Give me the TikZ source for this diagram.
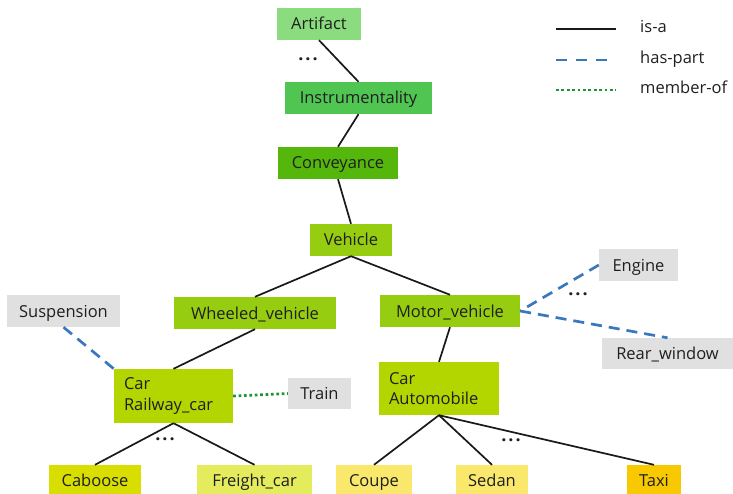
\documentclass[tikz,border=0pt]{standalone}
\usepackage{fontspec}
\setmainfont{Open Sans}
\definecolor{cArtifact}{HTML}{8BDC7E}
\definecolor{cInstr}{HTML}{50C552}
\definecolor{cConv}{HTML}{55B60C}
\definecolor{cVeh}{HTML}{97CD10}
\definecolor{cCar}{HTML}{B4D600}
\definecolor{cCaboose}{HTML}{D8DE00}
\definecolor{cFreight}{HTML}{E4EB5C}
\definecolor{cSedan}{HTML}{FAE86C}
\definecolor{cTaxi}{HTML}{F8C800}
\definecolor{cPart}{HTML}{E1E0E1}
\definecolor{cBlue}{HTML}{3A78BE}
\definecolor{cDot}{HTML}{1E9438}
\begin{document}
\begin{tikzpicture}[x=1pt,y=-1pt,
  box/.style={rectangle,inner sep=0pt,minimum height=32pt,text height=13pt,text depth=1pt,font=\fontsize{16.5}{20}\selectfont,text=black!88},
  twoline/.style={rectangle,inner sep=0pt,align=left,font=\fontsize{16.5}{20.5}\selectfont,text=black!88},
  legtext/.style={anchor=west,inner sep=0pt,text height=12pt,text depth=4pt,font=\fontsize{16.5}{20}\selectfont,text=black!88},
  isa/.style={draw=black!90,line width=1.7pt},
  haspart/.style={draw=cBlue,line width=2.7pt,dash pattern=on 11pt off 7pt},
  memberof/.style={draw=cDot,line width=2.7pt,dash pattern=on 2.7pt off 2.7pt},
  dots/.style={font=\fontsize{18}{18}\selectfont\bfseries,text=black!88}]
\useasboundingbox (0,0) rectangle (733,494);
% nodes
\node[box,fill=cArtifact,minimum width=84pt] (art) at (319,24) {Artifact};
\node[box,fill=cInstr,minimum width=147pt] (ins) at (358.5,98) {Instrumentality};
\node[box,fill=cConv,minimum width=120pt] (con) at (338,163) {Conveyance};
\node[box,fill=cVeh,minimum width=82pt] (veh) at (351,240) {Vehicle};
\node[box,fill=cVeh,minimum width=162pt] (wv) at (255,313) {Wheeled\_vehicle};
\node[box,fill=cVeh,minimum width=140pt] (mv) at (450,311) {Motor\_vehicle};
\node[box,fill=cPart,minimum width=113pt] (susp) at (63.5,311) {Suspension};
\node[twoline,fill=cCar,minimum width=119pt,minimum height=54pt,text width=99pt] (rail) at (173.5,396) {Car\\Railway\_car};
\node[box,fill=cPart,minimum width=63pt,minimum height=31pt] (train) at (319.5,393.5) {Train};
\node[twoline,fill=cCar,minimum width=120pt,minimum height=53pt,text width=100pt] (auto) at (439,388.5) {Car\\Automobile};
\node[box,fill=cPart,minimum width=79pt] (eng) at (638.5,265) {Engine};
\node[box,fill=cPart,minimum width=131pt,minimum height=31pt] (rear) at (667.5,353.5) {Rear\_window};
\node[box,fill=cCaboose,minimum width=92pt,minimum height=30pt] (cab) at (95,480) {Caboose};
\node[box,fill=cFreight,minimum width=115pt,minimum height=30pt] (fre) at (254.5,480) {Freight\_car};
\node[box,fill=cSedan,minimum width=76pt,minimum height=30pt] (cou) at (374,480) {Coupe};
\node[box,fill=cSedan,minimum width=72pt,minimum height=30pt] (sed) at (492,480) {Sedan};
\node[box,fill=cTaxi,minimum width=54pt,minimum height=30pt] (tax) at (654,480) {Taxi};
% ellipses marking omitted entries
\node[dots] (d1) at (308,59) {.\kern2pt.\kern2pt.};
\node[dots] (d2) at (165,439) {.\kern2pt.\kern2pt.};
\node[dots] (d3) at (578,294) {.\kern2pt.\kern2pt.};
\node[dots] (d4) at (511,440) {.\kern2pt.\kern2pt.};
% is-a links
\draw[isa] (art.south) -- (ins.north);
\draw[isa] (ins.south) -- (con.north);
\draw[isa] (con.south) -- (veh.north);
\draw[isa] (veh.south) -- (wv.north);
\draw[isa] (veh.south) -- (mv.north);
\draw[isa] (wv.south) -- (rail.north);
\draw[isa] (mv.south) -- (auto.north);
\draw[isa] (rail.south) -- (cab.north);
\draw[isa] (rail.south) -- (fre.north);
\draw[isa] (auto.south) -- (cou.north);
\draw[isa] (auto.south) -- (sed.north);
\draw[isa] (auto.south) -- (tax.north);
% has-part links
\draw[haspart] (susp.south) -- (rail.north west);
\draw[haspart] (eng.west) -- (mv.east);
\draw[haspart] (mv.east) -- (rear.north);
% member-of link
\draw[memberof] (rail.east) -- (train.west);
% legend
\coordinate (l1a) at (556,29); \coordinate (l1b) at (616,29);
\coordinate (l2a) at (556,60); \coordinate (l2b) at (616,60);
\coordinate (l3a) at (556,90); \coordinate (l3b) at (616,90);
\draw[isa] (l1a) -- (l1b);
\draw[haspart,dash pattern=on 11pt off 9pt] (l2a) -- (l2b);
\draw[memberof] (l3a) -- (l3b);
\node[legtext] (t1) at (640,29) {is-a};
\node[legtext] (t2) at (640,60) {has-part};
\node[legtext] (t3) at (640,90) {member-of};
\end{tikzpicture}
\end{document}
